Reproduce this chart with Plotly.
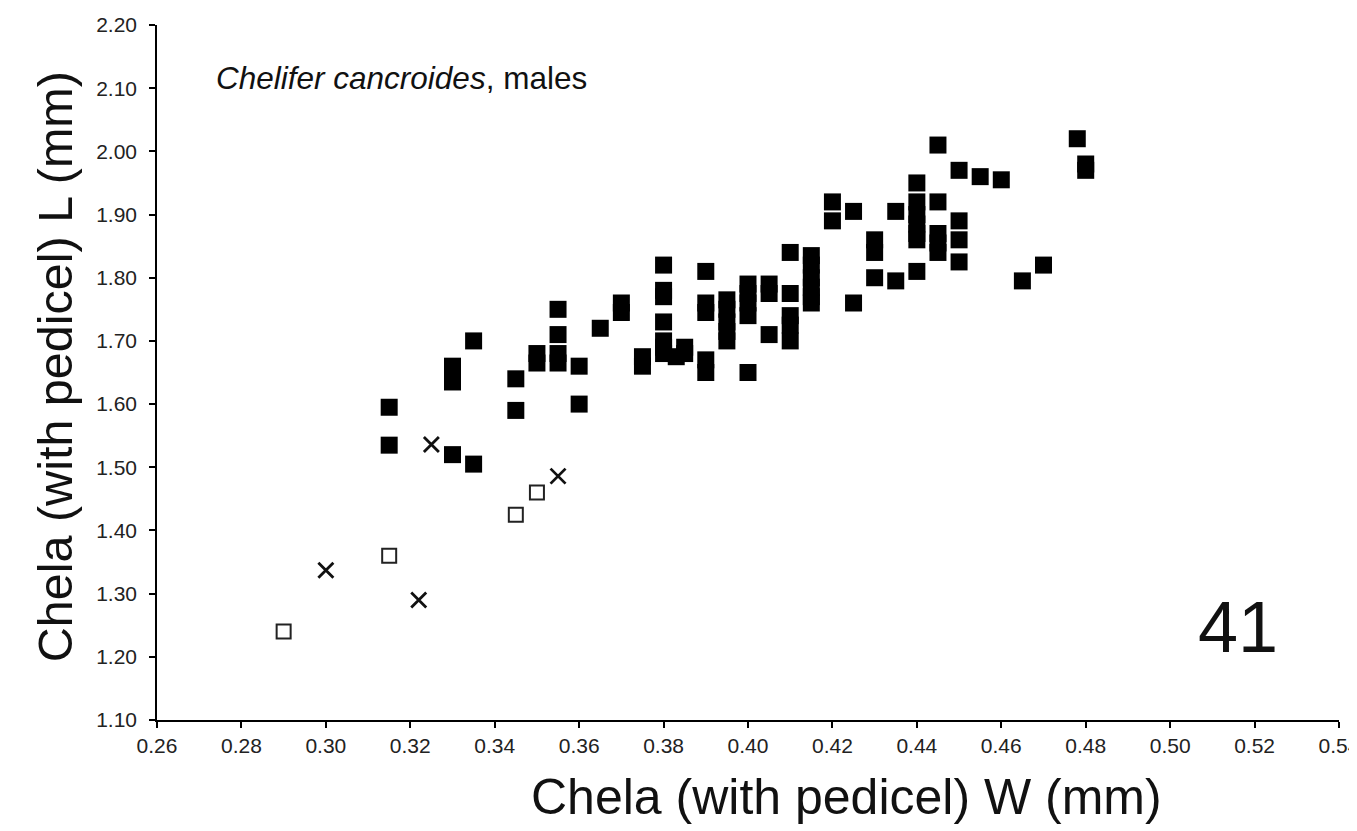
import plotly.graph_objects as go

# Chelifer cancroides, males - chela width vs length
filled_w = [0.315, 0.315,
            0.33, 0.33, 0.33, 0.33,
            0.335, 0.335,
            0.345, 0.345,
            0.35, 0.35,
            0.355, 0.355, 0.355, 0.355,
            0.36, 0.36,
            0.365,
            0.37, 0.37,
            0.375, 0.375,
            0.38, 0.38, 0.38, 0.38, 0.38, 0.38, 0.38,
            0.383, 0.385, 0.385,
            0.39, 0.39, 0.39, 0.39, 0.39,
            0.395, 0.395, 0.395, 0.395, 0.395,
            0.40, 0.40, 0.40, 0.40, 0.40,
            0.405, 0.405, 0.405,
            0.41, 0.41, 0.41, 0.41, 0.41,
            0.415, 0.415, 0.415, 0.415, 0.415, 0.415,
            0.42, 0.42,
            0.425, 0.425,
            0.43, 0.43, 0.43,
            0.435, 0.435,
            0.44, 0.44, 0.44, 0.44, 0.44, 0.44, 0.44,
            0.445, 0.445, 0.445, 0.445, 0.445,
            0.45, 0.45, 0.45, 0.45,
            0.455, 0.46,
            0.465, 0.47,
            0.478, 0.48, 0.48]
filled_l = [1.595, 1.535,
            1.66, 1.645, 1.635, 1.52,
            1.70, 1.505,
            1.64, 1.59,
            1.68, 1.665,
            1.75, 1.71, 1.68, 1.665,
            1.66, 1.60,
            1.72,
            1.76, 1.745,
            1.675, 1.66,
            1.82, 1.78, 1.77, 1.73, 1.70, 1.69, 1.68,
            1.675, 1.69, 1.68,
            1.81, 1.76, 1.745, 1.67, 1.65,
            1.765, 1.75, 1.73, 1.715, 1.70,
            1.79, 1.775, 1.76, 1.74, 1.65,
            1.79, 1.775, 1.71,
            1.84, 1.775, 1.74, 1.725, 1.70,
            1.835, 1.82, 1.80, 1.785, 1.77, 1.76,
            1.92, 1.89,
            1.905, 1.76,
            1.86, 1.84, 1.80,
            1.905, 1.795,
            1.95, 1.92, 1.90, 1.885, 1.87, 1.86, 1.81,
            2.01, 1.92, 1.87, 1.855, 1.84,
            1.97, 1.89, 1.86, 1.825,
            1.96, 1.955,
            1.795, 1.82,
            2.02, 1.98, 1.97]

open_w = [0.29, 0.315, 0.345, 0.35]
open_l = [1.24, 1.36, 1.425, 1.46]

cross_w = [0.30, 0.322, 0.325, 0.355]
cross_l = [1.337, 1.29, 1.536, 1.486]

x_ticks = [0.26 + 0.02 * i for i in range(15)]
y_ticks = [1.10 + 0.10 * i for i in range(12)]

font = "Liberation Sans, Arial, sans-serif"
tick_font = dict(family=font, size=21, color='#222')

fig = go.Figure()

fig.add_trace(go.Scatter(x=filled_w, y=filled_l, mode='markers',
                         marker=dict(symbol='square', size=17, color='black',
                                     line=dict(width=0))))
fig.add_trace(go.Scatter(x=open_w, y=open_l, mode='markers',
                         marker=dict(symbol='square-open', size=14, color='#222',
                                     line=dict(width=2))))
fig.add_trace(go.Scatter(x=cross_w, y=cross_l, mode='markers',
                         marker=dict(symbol='x-thin-open', size=15, color='#111',
                                     line=dict(width=2.8, color='#111'))))

axis_style = dict(showline=True, linecolor='black', linewidth=1.5,
                  ticks='outside', ticklen=6, tickwidth=1.5, tickcolor='black',
                  showgrid=False, zeroline=False, tickformat='.2f',
                  automargin=False, ticklabeloverflow='allow',
                  tickfont=tick_font)

fig.update_xaxes(range=[0.26, 0.54], tickvals=x_ticks, **axis_style)
fig.update_yaxes(range=[1.10, 2.20], tickvals=y_ticks, ticklabelstandoff=8, **axis_style)

# the page body has an 8px margin, so the plot box is shifted up-left by that much
fig.update_layout(
    width=1357, height=831,
    margin=dict(l=149, r=26, t=17, b=119),
    paper_bgcolor='white', plot_bgcolor='white',
    showlegend=False,
    font=dict(family=font, color='black'),
    annotations=[
        dict(text='<i>Chelifer cancroides</i>, males', xref='paper', yref='paper',
             x=0.048, y=0.924, xanchor='left', yanchor='middle', showarrow=False,
             font=dict(size=31.5, color='#111')),
        dict(text='41', xref='paper', yref='paper', x=0.9145, y=0.134,
             xanchor='center', yanchor='middle', showarrow=False,
             font=dict(size=72, color='#111')),
        dict(text='Chela (with pedicel) W (mm)', xref='paper', yref='paper',
             x=0.583, y=-0.111, xanchor='center', yanchor='middle', showarrow=False,
             font=dict(size=50, color='#111')),
        dict(text='Chela (with pedicel) L (mm)', xref='paper', yref='paper',
             x=-0.0863, y=0.509, xanchor='center', yanchor='middle', showarrow=False,
             textangle=-90, font=dict(size=48.5, color='#111')),
    ],
)

fig.write_html("out.html")
